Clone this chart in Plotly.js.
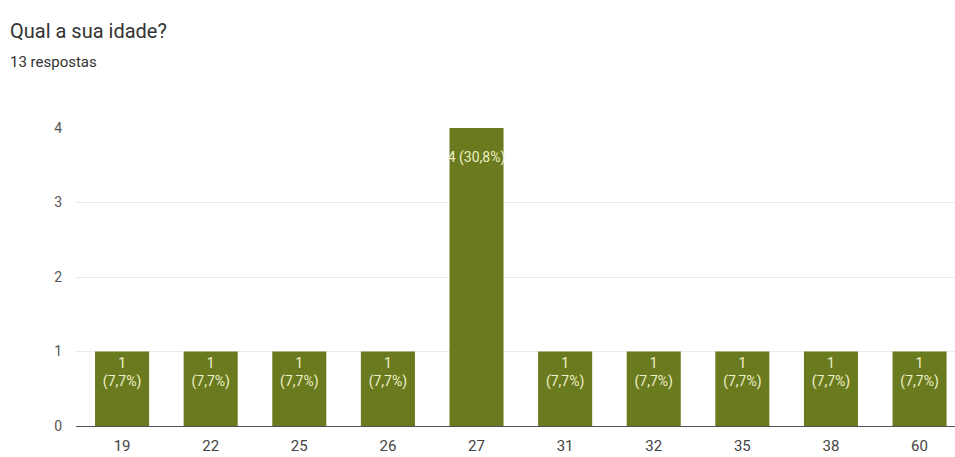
<!DOCTYPE html>
<html>
<head>
<meta charset="utf-8">
<script src="https://cdn.plot.ly/plotly-3.0.1.min.js"></script>
<style>html,body{margin:0;padding:0;background:#fff;}#chart{width:955px;height:457px;}</style>
</head>
<body>
<div id="chart"></div>
<script>
const categories = ["19", "22", "25", "26", "27", "31", "32", "35", "38", "60"];
const counts = [1, 1, 1, 1, 4, 1, 1, 1, 1, 1];
const labels = ["1<br>(7,7%)", "1<br>(7,7%)", "1<br>(7,7%)", "1<br>(7,7%)", "\u00a0<br>4 (30,8%)", "1<br>(7,7%)", "1<br>(7,7%)", "1<br>(7,7%)", "1<br>(7,7%)", "1<br>(7,7%)"];
const yTicks = [0, 1, 2, 3, 4];

const trace = {
  type: 'bar',
  x: categories,
  y: counts,
  text: labels,
  textposition: 'inside',
  insidetextanchor: 'end',
  constraintext: 'none',
  textangle: 0,
  textfont: {family: 'Roboto, Arial, sans-serif', size: 14, color: '#eef0c8'},
  marker: {color: '#6a7a1e'},
  width: 0.61,
  hoverinfo: 'none'
};

const layout = {
  width: 955, height: 457,
  margin: {l: 76, r: 0, t: 128, b: 31},
  paper_bgcolor: '#ffffff', plot_bgcolor: '#ffffff',
  showlegend: false,
  xaxis: {
    type: 'category',
    range: [-0.52, 9.40],
    showgrid: false,
    showline: true, linecolor: '#50505a', linewidth: 1,
    ticks: '', ticklabelstandoff: 6,
    tickfont: {family: 'Roboto, Arial, sans-serif', size: 15, color: '#444444'},
    fixedrange: true
  },
  yaxis: {
    range: [0, 4],
    tickvals: yTicks,
    ticktext: yTicks.map(String),
    showgrid: true, gridcolor: '#ebebeb', gridwidth: 1,
    zeroline: false, showline: false,
    ticks: '', ticklabelstandoff: 13,
    tickfont: {family: 'Roboto, Arial, sans-serif', size: 14, color: '#555555'},
    fixedrange: true
  },
  annotations: [
    {text: 'Qual a sua idade?', xref: 'paper', yref: 'paper', x: -68/879, y: 1 + 97/298, xanchor: 'left', yanchor: 'middle', showarrow: false,
     font: {family: 'Roboto, Arial, sans-serif', size: 20, color: '#333333'}},
    {text: '13 respostas', xref: 'paper', yref: 'paper', x: -68/879, y: 1 + 66/298, xanchor: 'left', yanchor: 'middle', showarrow: false,
     font: {family: 'Roboto, Arial, sans-serif', size: 15, color: '#333333'}}
  ]
};

Plotly.newPlot('chart', [trace], layout, {staticPlot: true, displayModeBar: false});
</script>
</body>
</html>
